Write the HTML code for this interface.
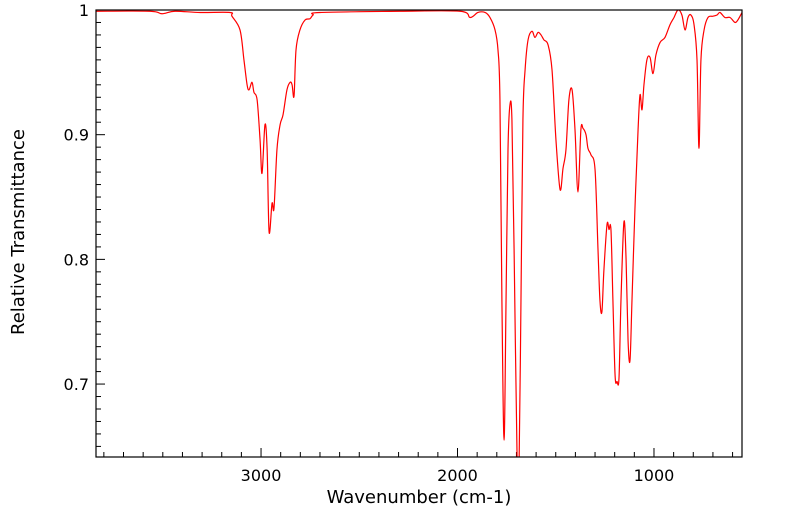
<!DOCTYPE html>
<html><head><meta charset="utf-8"><style>
body{margin:0;background:#fff}
svg{display:block;font-family:"DejaVu Sans","Liberation Sans",sans-serif}
</style></head><body>
<svg id="chart" width="799" height="516">
<rect x="0" y="0" width="799" height="516" fill="#fff"/>
<g id="ticks"></g>
<g id="labels"></g>
<clipPath id="clip"><rect x="96" y="10" width="646" height="447"/></clipPath>
<path id="line" clip-path="url(#clip)" fill="none" stroke="#ff0000" stroke-width="1.2"/>
<rect x="96" y="10" width="646" height="447" fill="none" stroke="#000" stroke-width="1.2"/>
<text x="419" y="503" font-size="18" text-anchor="middle">Wavenumber (cm-1)</text>
<text transform="translate(24,232) rotate(-90)" font-size="18" text-anchor="middle">Relative Transmittance</text>
</svg>
<script>
const wavenumbers=[3840,3565,3504,3438,3310,3158,3148,3107,3087,3071,3061,3046,3036,3020,3005,2995,2980,2969,2959,2944,2934,2919,2903,2888,2868,2852,2842,2832,2822,2802,2776,2751,2735,2700,2293,1987,1936,1896,1860,1835,1809,1794,1784,1774,1763,1753,1743,1733,1723,1712,1697,1687,1677,1667,1656,1641,1621,1606,1590,1575,1560,1539,1519,1499,1478,1463,1448,1433,1417,1402,1387,1372,1361,1346,1336,1321,1300,1285,1275,1265,1255,1239,1229,1219,1209,1198,1188,1178,1168,1153,1142,1132,1122,1112,1097,1081,1071,1061,1051,1036,1020,1005,990,969,944,919,898,878,858,842,827,812,796,781,771,761,745,725,700,679,664,639,613,588,573,552];
const transmittance=[.999,.999,.997,.999,.998,.998,.995,.984,.960,.940,.936,.942,.934,.928,.896,.869,.908,.888,.822,.845,.841,.888,.908,.916,.936,.942,.940,.931,.968,.984,.992,.993,.996,.998,.999,.999,.994,.998,.998,.994,.984,.968,.928,.767,.655,.767,.888,.924,.912,.808,.643,.63,.767,.912,.952,.976,.983,.978,.982,.980,.976,.972,.952,.896,.856,.873,.888,.928,.936,.904,.854,.904,.905,.900,.889,.884,.872,.808,.767,.758,.791,.828,.824,.824,.767,.707,.702,.705,.767,.830,.800,.735,.719,.767,.840,.904,.932,.920,.940,.960,.962,.949,.964,.974,.978,.988,.994,1.0,.996,.984,.994,.996,.988,.960,.889,.960,.984,.994,.995,.996,.998,.994,.994,.990,.992,.998];
const xTicks=[3000,2000,1000];
const yTicks=[0.7,0.8,0.9,1];
const yTickLabels=["0.7","0.8","0.9","1"];
const X0=96,X1=742,Y0=10,Y1=457,WN0=3840,WN1=552,T0=1,T1=0.6415;
const sx=w=>X0+(WN0-w)/(WN0-WN1)*(X1-X0);
const sy=t=>Y0+(T0-t)/(T0-T1)*(Y1-Y0);
const pts=wavenumbers.map((w,i)=>[sx(w),sy(transmittance[i])]);
let d="M"+pts[0][0].toFixed(2)+","+pts[0][1].toFixed(2);
for(let i=0;i<pts.length-1;i++){
 const p0=pts[Math.max(i-1,0)],p1=pts[i],p2=pts[i+1],p3=pts[Math.min(i+2,pts.length-1)];
 const c1=[p1[0]+(p2[0]-p0[0])/6,p1[1]+(p2[1]-p0[1])/6];
 const c2=[p2[0]-(p3[0]-p1[0])/6,p2[1]-(p3[1]-p1[1])/6];
 d+=" C"+c1.map(v=>v.toFixed(2))+" "+c2.map(v=>v.toFixed(2))+" "+p2.map(v=>v.toFixed(2));
}
document.getElementById('line').setAttribute('d',d);
const NS="http://www.w3.org/2000/svg";
const tg=document.getElementById('ticks'),lg=document.getElementById('labels');
function ln(x1,y1,x2,y2,name){const l=document.createElementNS(NS,'line');
l.setAttribute('x1',x1);l.setAttribute('y1',y1);l.setAttribute('x2',x2);l.setAttribute('y2',y2);
l.setAttribute('stroke','#000');l.setAttribute('stroke-width','1');


tg.appendChild(l);}
for(let w=3800;w>=600;w-=100){const x=sx(w);const major=w%1000===0;ln(x,Y1,x,Y1-(major?9:5),major?'x-major-tick':'x-minor-tick');}
for(let k=65;k<=100;k++){const t=k/100;const y=sy(t);const major=k%10===0;ln(X0,y,X0+(major?9:5),y,major?'y-major-tick':'y-minor-tick');}
xTicks.forEach(w=>{const t=document.createElementNS(NS,'text');t.setAttribute('x',sx(w));t.setAttribute('y',481);
t.setAttribute('text-anchor','middle');t.setAttribute('font-size','16');t.textContent=w;


lg.appendChild(t);});
yTicks.forEach((v,i)=>{const t=document.createElementNS(NS,'text');t.setAttribute('x',89);t.setAttribute('y',sy(v)+6);
t.setAttribute('text-anchor','end');t.setAttribute('font-size','16');t.textContent=yTickLabels[i];


lg.appendChild(t);});
</script>
</body></html>
